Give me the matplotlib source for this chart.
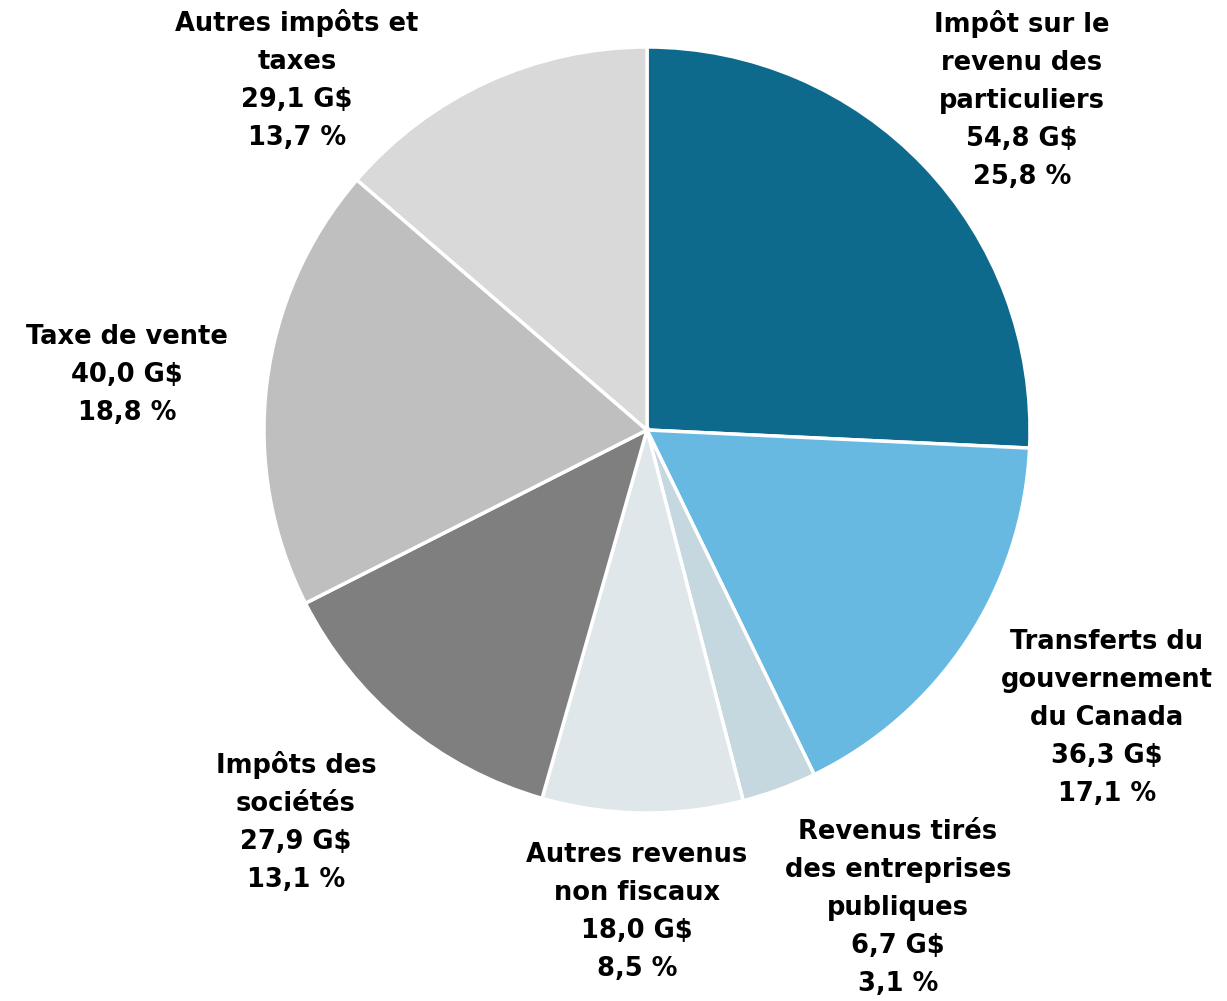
import matplotlib
matplotlib.use("Agg")
import matplotlib.pyplot as plt

categories = ["Impôt sur le\nrevenu des\nparticuliers",
              "Transferts du\ngouvernement\ndu Canada",
              "Revenus tirés\ndes entreprises\npubliques",
              "Autres revenus\nnon fiscaux",
              "Impôts des\nsociétés",
              "Taxe de vente",
              "Autres impôts et\ntaxes"]
values = [54.8, 36.3, 6.7, 18.0, 27.9, 40.0, 29.1]
value_labels = ["54,8 G$", "36,3 G$", "6,7 G$", "18,0 G$", "27,9 G$", "40,0 G$", "29,1 G$"]
pct_labels = ["25,8 %", "17,1 %", "3,1 %", "8,5 %", "13,1 %", "18,8 %", "13,7 %"]
colors = ["#0E6A8C", "#67B9E2", "#C5D7DF", "#DFE7EB", "#7F7F7F", "#BFBFBF", "#D9D9D9"]

# label centre positions (pixels, y from top)
label_pos = [(1022, 100), (1107, 718), (898, 908), (637, 912), (296, 822), (127, 375), (297, 80)]

W, H = 1227, 1001
fig = plt.figure(figsize=(W / 100, H / 100), dpi=100)
ax = fig.add_axes([0, 0, 1, 1])
ax.set_xlim(0, W)
ax.set_ylim(0, H)
ax.set_aspect("equal")
ax.axis("off")

ax.pie(values, colors=colors, startangle=90, counterclock=False,
       center=(647, H - 430), radius=383,
       wedgeprops=dict(edgecolor="white", linewidth=2.5))
ax.set_xlim(0, W)
ax.set_ylim(0, H)

for cat, v, p, (x, y) in zip(categories, value_labels, pct_labels, label_pos):
    ax.text(x, H - y, f"{cat}\n{v}\n{p}", ha="center", va="center",
            multialignment="center", fontsize=18.5, fontweight="bold",
            family="DejaVu Sans", color="black", linespacing=1.6)

fig.savefig("out.png", dpi=100)
